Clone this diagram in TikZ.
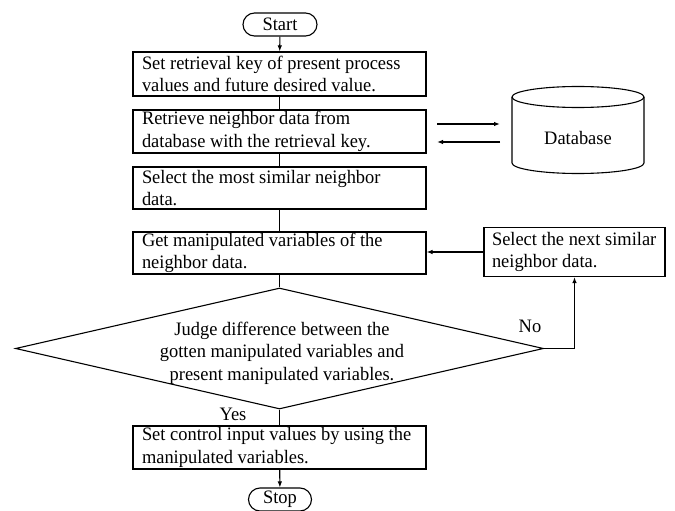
\documentclass[tikz,border=0pt]{standalone}
\usepackage{fontspec}
\setmainfont[FakeStretch=0.97]{Liberation Serif}
\usetikzlibrary{shapes.geometric,shapes.misc,arrows.meta}
\begin{document}
\begin{tikzpicture}[x=1pt,y=-1pt,
  every node/.style={font=\fontsize{19}{22.5}\selectfont},
  procbox/.style={draw,line width=1.1pt,rectangle,text width=275pt,inner xsep=9pt,inner ysep=0pt,align=flush left},
  term/.style={draw,line width=1.1pt,rounded rectangle,inner sep=0pt,minimum height=23pt},
  flow/.style={line width=1.1pt},
  arr/.style={flow,-{Latex[length=6pt,width=4.5pt]}},
  lbl/.style={inner sep=0pt}
]
\useasboundingbox (0,0) rectangle (675,511);

\node[term, minimum width=74pt] (start) at (280,24.5) {Start};
\node[procbox, minimum height=44pt] (box1) at (279.5,74) {Set retrieval key of present process\\values and future desired value.};
\node[procbox, minimum height=43pt] (box2) at (279.5,131.5) {Retrieve neighbor data from\\database with the retrieval key.};
\node[procbox, minimum height=42pt] (box3) at (279.5,188) {Select the most similar neighbor\\data.};
\node[procbox, minimum height=42pt] (box4) at (279.5,253) {Get manipulated variables of the\\neighbor data.};
\node[draw, line width=1.1pt, diamond, inner sep=0pt, minimum width=528pt, minimum height=121pt] (dia) at (279.5,348.5) {};
\node[lbl, align=center] (diatext) at (282,353) {Judge difference between the\\gotten manipulated variables and\\present manipulated variables.};
\node[procbox, minimum height=43pt] (box6) at (279.5,447.5) {Set control input values by using the\\manipulated variables.};
\node[term, minimum width=63pt] (stop) at (280,499.5) {Stop};
\node[procbox, text width=165pt, inner xsep=8pt, minimum height=49pt] (box5) at (574.5,252) {Select the next similar\\neighbor data.};

% database cylinder
\draw[flow] (512,97) -- (512,163) arc[start angle=180, end angle=0, x radius=66, y radius=10.5]
  -- (644,97) arc[start angle=0, end angle=-180, x radius=66, y radius=10.5];
\draw[flow] (512,97) arc[start angle=180, end angle=0, x radius=66, y radius=10.5];
\node[lbl] (db) at (578,138) {Database};

\coordinate (a1) at (437,124);
\coordinate (a2) at (500,124);
\coordinate (b1) at (500,142);
\coordinate (b2) at (437,142);
\draw[arr] (a1) -- (a2);
\draw[arr] (b1) -- (b2);

\draw[arr] (start) -- (box1);
\draw[flow] (box1) -- (box2);
\draw[flow] (box2) -- (box3);
\draw[flow] (box3) -- (box4);
\draw[flow] (box4) -- (dia);
\draw[flow] (dia) -- (box6);
\draw[arr] (box6) -- (stop);
\draw[arr] (dia.east) -| (box5.south);
\draw[arr] (box5.west) -- (box5.west -| box4.east);

\node[lbl] (no) at (530,326) {No};
\node[lbl] (yes) at (233,414) {Yes};
\end{tikzpicture}
\end{document}
